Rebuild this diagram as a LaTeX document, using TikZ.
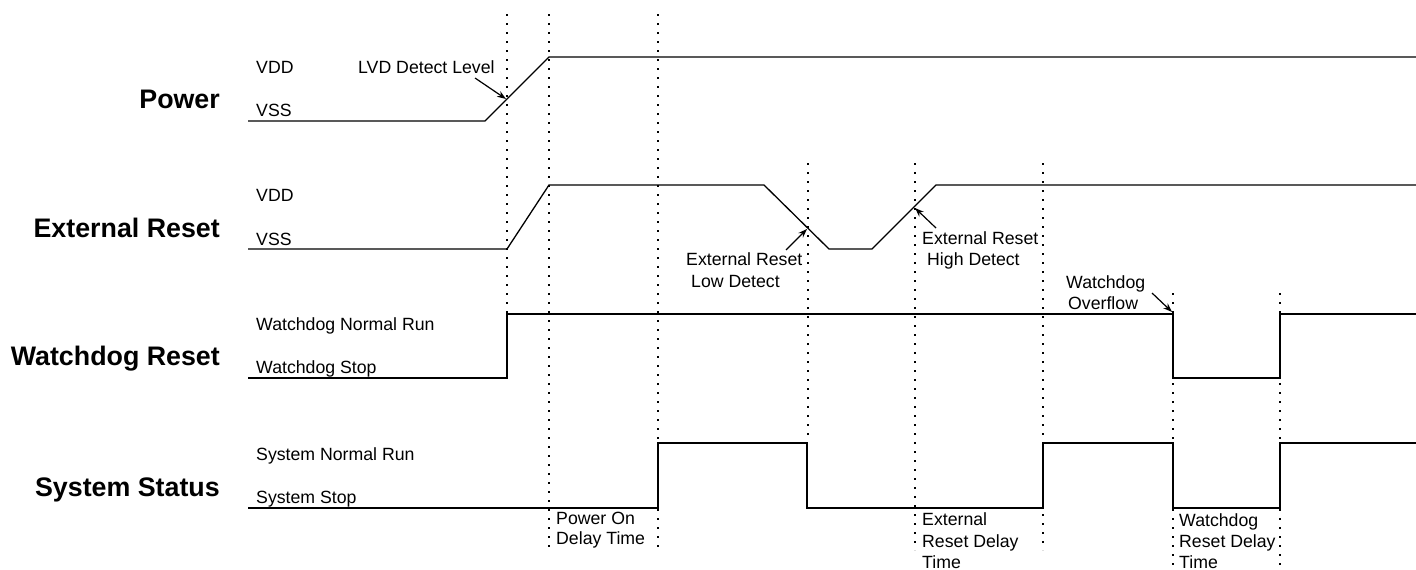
\documentclass[tikz,border=0pt]{standalone}
\usepackage{fontspec}
\setmainfont{Liberation Sans}
\usetikzlibrary{arrows.meta}
\begin{document}
\begin{tikzpicture}[x=1pt,y=-1pt,
  wave/.style={line width=1.3pt, line join=miter},
  gridline/.style={line width=2.4pt, dash pattern=on 2.4pt off 6.6pt},
  lbl/.style={font=\fontsize{17.7}{20}\selectfont, inner sep=0pt, anchor=base west},
  ttl/.style={font=\fontsize{26.8}{30}\selectfont\bfseries, inner sep=0pt, anchor=base east},
  pointer/.style={line width=1.2pt, -{Stealth[length=9pt,width=6.5pt]}}]
\useasboundingbox (0,0) rectangle (1416,570);

% dotted time markers
\draw[gridline] (507,14) -- (507,313);
\draw[gridline] (549,14) -- (549,550);
\draw[gridline] (658,14) -- (658,550);
\draw[gridline] (808,163) -- (808,440);
\draw[gridline] (915,163) -- (915,550);
\draw[gridline] (1043,163) -- (1043,550);
\draw[gridline] (1173,293) -- (1173,568);
\draw[gridline] (1280,293) -- (1280,568);

% waveforms
\draw[wave] (248,121) -- (485,121) -- (549,57) -- (1416,57);
\draw[wave] (248,249) -- (507,249) -- (549,185) -- (764,185) -- (829,249) -- (872,249) -- (936,185) -- (1416,185);
\draw[wave] (248,378) -- (507,378) -- (507,314) -- (1173,314) -- (1173,378) -- (1280,378) -- (1280,314) -- (1416,314);
\draw[wave] (248,508) -- (658,508) -- (658,443) -- (807,443) -- (807,508) -- (1043,508) -- (1043,443) -- (1173,443) -- (1173,508) -- (1280,508) -- (1280,443) -- (1416,443);

% titles
\node[ttl] (tpow) at (220,108) {Power};
\node[ttl] (text) at (220,237) {External Reset};
\node[ttl] (twd) at (220,365) {Watchdog Reset};
\node[ttl] (tsys) at (220,496) {System Status};

% level labels
\node[lbl] (pvdd) at (256,73) {VDD};
\node[lbl] (pvss) at (256,116) {VSS};
\node[lbl] (evdd) at (256,201) {VDD};
\node[lbl] (evss) at (256,245) {VSS};
\node[lbl] (wrun) at (256,330) {Watchdog Normal Run};
\node[lbl] (wstop) at (256,373) {Watchdog Stop};
\node[lbl] (srun) at (256,460) {System Normal Run};
\node[lbl] (sstop) at (256,503) {System Stop};

% event labels
\node[lbl] (lvd) at (358,73) {LVD Detect Level};
\node[lbl] (low1) at (686,265) {External Reset};
\node[lbl] (low2) at (691,287) {Low Detect};
\node[lbl] (high1) at (922,244) {External Reset};
\node[lbl] (high2) at (927,265) {High Detect};
\node[lbl] (ovf1) at (1066,288) {Watchdog};
\node[lbl] (ovf2) at (1068,309) {Overflow};

% delay labels
\node[lbl] (pod1) at (556,524) {Power On};
\node[lbl] (pod2) at (556,544) {Delay Time};
\node[lbl] (erd1) at (922,525) {External};
\node[lbl] (erd2) at (922,547) {Reset Delay};
\node[lbl] (erd3) at (922,568) {Time};
\node[lbl] (wrd1) at (1179,526) {Watchdog};
\node[lbl] (wrd2) at (1179,547) {Reset Delay};
\node[lbl] (wrd3) at (1179,568) {Time};

% pointer arrows
\coordinate (lvdS) at (475,78);   \coordinate (lvdE) at (506,99);
\coordinate (lowS) at (786,250);  \coordinate (lowE) at (807,229);
\coordinate (highS) at (936,228); \coordinate (highE) at (915,208);
\coordinate (ovfS) at (1152,293); \coordinate (ovfE) at (1172,312);
\draw[pointer] (lvdS) -- (lvdE);
\draw[pointer] (lowS) -- (lowE);
\draw[pointer] (highS) -- (highE);
\draw[pointer] (ovfS) -- (ovfE);
\end{tikzpicture}
\end{document}
